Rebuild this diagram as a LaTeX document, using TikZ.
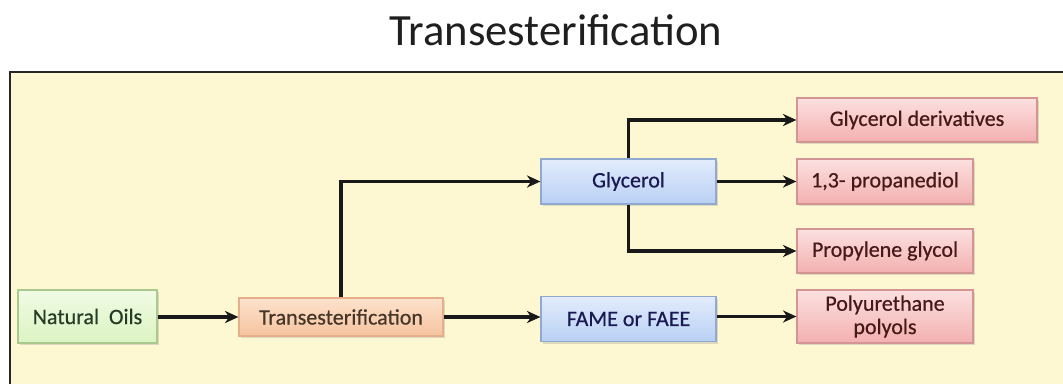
\documentclass[tikz,border=0pt]{standalone}
\usepackage{fontspec}
\setmainfont{Carlito}
\newfontfamily\boxfont[FakeBold=0.6]{Carlito}
\usetikzlibrary{arrows.meta,shadows}
\definecolor{bgy}{HTML}{FDF8D2}
\definecolor{gfillA}{HTML}{F0FBE4}
\definecolor{gfillB}{HTML}{DCF4C2}
\definecolor{gdraw}{HTML}{A9C98E}
\definecolor{ofillA}{HTML}{FCE2CC}
\definecolor{ofillB}{HTML}{F6C3A0}
\definecolor{odraw}{HTML}{E6AE8A}
\definecolor{bfillA}{HTML}{E2ECFC}
\definecolor{bfillB}{HTML}{B9D0F4}
\definecolor{bdraw}{HTML}{8FA9CF}
\definecolor{rfillA}{HTML}{FCE0E0}
\definecolor{rfillB}{HTML}{F3B0B0}
\definecolor{rdraw}{HTML}{D39494}
\tikzset{
  box/.style={rectangle, line width=0.9pt, inner sep=2pt, align=center,
    font=\boxfont\fontsize{16.5}{18}\selectfont,
    drop shadow={shadow xshift=1.2pt, shadow yshift=-1.5pt, opacity=0.25}},
  gbox/.style={box, draw=gdraw, top color=gfillA, bottom color=gfillB, text=green!10!black!85},
  obox/.style={box, draw=odraw, top color=ofillA, bottom color=ofillB, text=brown!25!black!90},
  bbox/.style={box, draw=bdraw, top color=bfillA, bottom color=bfillB, text=blue!25!black!90},
  rbox/.style={box, draw=rdraw, top color=rfillA, bottom color=rfillB, text=red!20!black!90},
  conn/.style={line width=2.3pt, black!90, -{Stealth[length=10pt,width=9pt,inset=3pt]}},
}
\begin{document}
\begin{tikzpicture}[x=0.75pt,y=-0.75pt]
\clip (0,0) rectangle (1063,383);
\fill[white] (0,0) rectangle (1063,383);
\fill[bgy] (10,72) rectangle (1075,395);
\draw[line width=2.2pt, black!85] (10,395) -- (10,72) -- (1075,72);
\node[anchor=base, font=\fontsize{33.5}{38}\selectfont, text=black!88] (title) at (556,45) {Transesterification};

\node[gbox, minimum width=104.25pt, minimum height=39.75pt] (nat) at (87.5,316.5) {Natural~ Oils};
\node[obox, minimum width=153pt, minimum height=28.5pt] (trans) at (341,317) {Transesterification};
\node[bbox, minimum width=131.25pt, minimum height=33.75pt] (gly) at (628.5,181.5) {Glycerol};
\node[bbox, minimum width=131.25pt, minimum height=33.75pt] (fame) at (628.5,319) {FAME or FAEE};
\node[rbox, minimum width=180pt, minimum height=33pt] (gd) at (917,120) {Glycerol derivatives};
\node[rbox, minimum width=132pt, minimum height=33.75pt] (pd) at (885,181.5) {1,3- propanediol};
\node[rbox, minimum width=132pt, minimum height=33pt] (pg) at (885,251) {Propylene glycol};
\node[rbox, minimum width=132pt, minimum height=39.75pt, font=\boxfont\fontsize{16.5}{17.5}\selectfont] (pu) at (885,316.5) {Polyurethane\\polyols};

\draw[conn] (nat.east |- trans.west) -- (trans.west);
\draw[conn] (trans.north) |- (gly.west);
\draw[conn] (trans.east) -- (trans.east -| fame.west);
\draw[conn] (gly.north) |- (gd.west);
\draw[conn] (gly.east) -- (pd.west);
\draw[conn] (gly.south) |- (pg.west);
\draw[conn] (fame.east |- pu.west) -- (pu.west);
\end{tikzpicture}
\end{document}
